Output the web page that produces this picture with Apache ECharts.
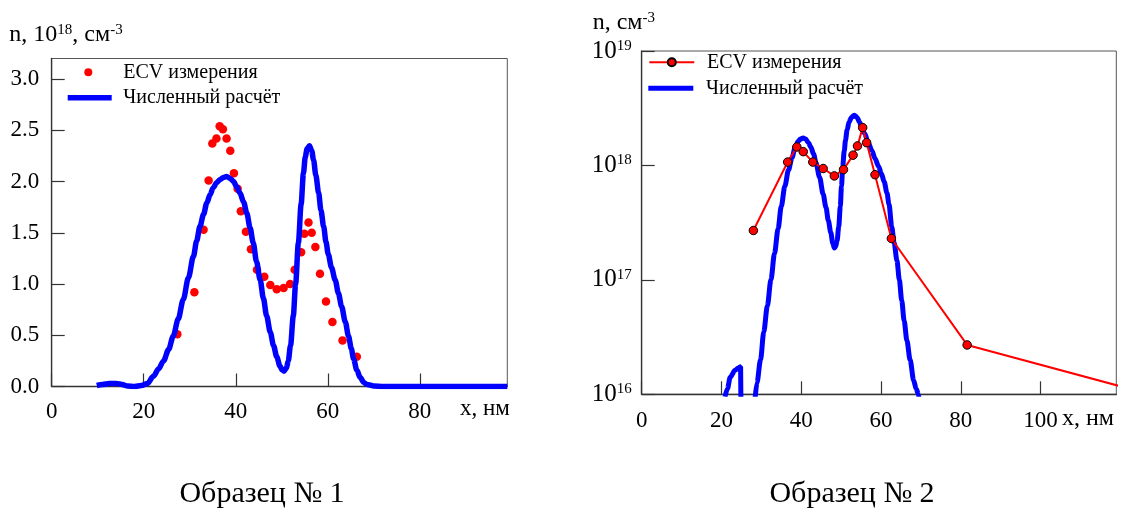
<!DOCTYPE html>
<html>
<head>
<meta charset="utf-8">
<script src="https://cdn.jsdelivr.net/npm/echarts@6.0.0/dist/echarts.min.js"></script>
<style>
html, body { margin: 0; padding: 0; background: #fff; }
#chart { width: 1124px; height: 511px; }
</style>
</head>
<body>
<div id="chart"></div>
<script>
// Образец № 1 (linear scale, units of 1e18 cm^-3)
const leftEcvX = [27.3, 31.0, 33.0, 34.1, 34.9, 35.8, 36.5, 37.2, 38.0, 38.8, 39.6, 40.4, 41.1, 42.2, 43.3, 44.6,
  46.2, 47.5, 48.9, 50.4, 51.8, 52.8, 54.2, 54.9, 55.8, 56.5, 57.3, 58.3, 59.6, 61.0, 63.2, 66.3];
const leftEcvY = [0.51, 0.92, 1.53, 2.01, 2.37, 2.42, 2.54, 2.51, 2.42, 2.30, 2.08, 1.93, 1.71, 1.51, 1.34, 1.14,
  1.07, 0.99, 0.95, 0.96, 1.00, 1.14, 1.31, 1.49, 1.60, 1.50, 1.36, 1.10, 0.83, 0.63, 0.45, 0.29];

const leftCalcX = [9.8, 11.0, 12.5, 14.0, 15.3, 16.5, 18.0, 19.5, 20.8, 22.1, 23.2, 24.3, 25.4, 26.4, 27.5, 28.6,
  29.7, 30.8, 31.5, 32.2, 33.0, 33.7, 34.4, 35.1, 35.9, 36.6, 37.3, 38.0, 38.8, 39.5, 40.2, 40.9, 41.7, 42.4,
  43.1, 43.8, 44.5, 45.3, 46.0, 46.7, 47.5, 48.2, 48.9, 49.6, 50.1, 50.5, 51.0, 51.4, 51.9, 52.5, 53.0, 53.6,
  54.2, 54.7, 55.1, 55.5, 56.0, 56.5, 56.9, 57.4, 58.0, 58.5, 59.1, 59.6, 60.1, 60.8, 61.6, 62.3, 63.0, 63.8,
  64.5, 65.1, 65.6, 66.3, 67.0, 67.8, 68.5, 70.0, 72.0, 99.0];
const leftCalcY = [0.01, 0.02, 0.03, 0.03, 0.02, 0.005, 0.0, 0.01, 0.03, 0.10, 0.17, 0.25, 0.36, 0.49, 0.66, 0.85,
  1.06, 1.27, 1.42, 1.56, 1.68, 1.79, 1.87, 1.94, 1.99, 2.02, 2.04, 2.05, 2.03, 2.00, 1.95, 1.89, 1.80, 1.69,
  1.55, 1.40, 1.22, 1.04, 0.86, 0.69, 0.53, 0.40, 0.29, 0.20, 0.16, 0.15, 0.18, 0.25, 0.40, 0.69, 1.00, 1.40,
  1.78, 2.08, 2.24, 2.32, 2.35, 2.30, 2.21, 2.06, 1.89, 1.72, 1.56, 1.41, 1.29, 1.16, 1.04, 0.91, 0.78, 0.63,
  0.49, 0.37, 0.27, 0.16, 0.09, 0.04, 0.02, 0.005, 0.0, 0.0];

// Образец № 2 (log scale, cm^-3)
const rightEcvX = [28.0, 36.6, 38.9, 40.5, 42.9, 45.5, 48.3, 50.6, 53.0, 54.1, 55.4, 56.4, 58.5, 62.6, 81.6, 121];
const rightEcvY = [2.7e17, 1.07e18, 1.45e18, 1.32e18, 1.07e18, 9.4e17, 8.1e17, 9.2e17, 1.23e18, 1.48e18,
  2.14e18, 1.58e18, 8.3e17, 2.3e17, 2.7e16, 1.15e16];

const rightCalcX = [20.9, 21.5, 22.2, 23.4, 24.2, 24.8, 24.95, 26.5,
  28.4, 28.9, 29.8, 30.6, 31.5, 32.4, 33.3, 34.2, 35.0, 35.9, 36.8, 37.7, 38.5, 39.2, 39.8, 40.5, 41.1, 41.8,
  42.4, 43.1, 43.7, 44.6, 45.5, 46.2, 46.8, 47.4, 47.9, 48.3, 48.6, 49.0, 49.4, 49.8, 50.1, 50.4, 50.8, 51.1,
  51.5, 52.0, 52.6, 53.3, 54.0, 54.6, 55.2, 55.9, 56.8, 57.7, 58.5, 59.4, 60.1, 60.8, 61.5, 62.0, 62.7, 63.3,
  64.0, 64.6, 65.2, 65.8, 66.5, 67.3, 68.2, 68.8, 69.4, 69.8];
const rightCalcY = [9.5e15, 1.12e16, 1.41e16, 1.62e16, 1.70e16, 1.74e16, 3.2e15, null,
  8.9e15, 1.26e16, 2.0e16, 3.5e16, 5.9e16, 1.0e17, 1.7e17, 2.8e17, 4.4e17, 6.6e17, 9.1e17, 1.17e18, 1.45e18,
  1.62e18, 1.70e18, 1.74e18, 1.70e18, 1.58e18, 1.45e18, 1.26e18, 1.05e18, 7.9e17, 5.6e17, 4.3e17, 3.3e17,
  2.6e17, 2.1e17, 1.9e17, 1.95e17, 2.2e17, 2.9e17, 4.4e17, 6.6e17, 9.8e17, 1.35e18, 1.66e18, 2.04e18, 2.4e18,
  2.63e18, 2.75e18, 2.63e18, 2.4e18, 2.14e18, 1.9e18, 1.58e18, 1.35e18, 1.15e18, 9.8e17, 8.5e17, 7.2e17,
  5.75e17, 4.6e17, 2.9e17, 2.1e17, 1.48e17, 1.0e17, 6.6e16, 4.4e16, 2.95e16, 2.0e16, 1.32e16, 1.12e16,
  1.0e16, 7.9e15];

const xTicksLeft = [0, 20, 40, 60, 80];
const xTicksRight = [0, 20, 40, 60, 80, 100];
const yTicksLeft = [0, 0.5, 1.0, 1.5, 2.0, 2.5, 3.0];

const names = {
  ecvL: 'ECV измерения',
  calcL: 'Численный расчёт',
  ecvR: 'ECV измерения',
  calcR: 'Численный расчёт'
};

const FONT = '"Liberation Serif", "Times New Roman", serif';
const RED = '#ff0000';
const BLUE = '#0000ff';
const AXIS = '#333';

function pairs(xs, ys) {
  return xs.map((x, i) => [x, ys[i] === null ? '-' : ys[i]]);
}

function axisCommon() {
  return {
    axisLine: { show: true, onZero: false, lineStyle: { color: AXIS, width: 1.3 } },
    axisTick: { show: true, inside: true, length: 13, lineStyle: { color: AXIS, width: 1.2 } },
    splitLine: { show: false },
    axisLabel: { fontFamily: FONT, fontSize: 23, color: '#000' }
  };
}

function legendItem(key, left, top, width, height, icon, pad) {
  const item = { name: key };
  if (icon) item.icon = icon;
  return {
    data: [item],
    left: left,
    top: top,
    padding: 0,
    itemWidth: width,
    itemHeight: height,
    selectedMode: false,
    formatter: n => names[n],
    textStyle: { fontFamily: FONT, fontSize: 20, color: '#000', lineHeight: 20, padding: [0, 0, 0, pad] }
  };
}

const chart = echarts.init(document.getElementById('chart'));

const xl = axisCommon();
const yl = axisCommon();
const xr = axisCommon();
const yr = axisCommon();

chart.setOption({
  animation: false,
  backgroundColor: '#fff',
  grid: [
    { left: 51.7, top: 58.5, width: 455.6, height: 328, show: true, borderColor: '#555', borderWidth: 1 },
    { left: 641.7, top: 51, width: 474.6, height: 343.3, show: true, borderColor: '#555', borderWidth: 1 }
  ],
  xAxis: [
    Object.assign(xl, {
      type: 'value', gridIndex: 0, min: 0, max: 99, interval: 20,
      axisLabel: Object.assign(xl.axisLabel, {
        margin: 14, showMaxLabel: false,
        formatter: v => (xTicksLeft.indexOf(v) >= 0 ? String(v) : '')
      })
    }),
    Object.assign(xr, {
      type: 'value', gridIndex: 1, min: 0, max: 119, interval: 20,
      axisLabel: Object.assign(xr.axisLabel, {
        margin: 15, showMaxLabel: false,
        formatter: v => (xTicksRight.indexOf(v) >= 0 ? String(v) : '')
      })
    })
  ],
  yAxis: [
    Object.assign(yl, {
      type: 'value', gridIndex: 0, min: 0, max: 3.2, interval: 0.5,
      axisLabel: Object.assign(yl.axisLabel, {
        margin: 12.5, showMaxLabel: false,
        formatter: v => {
          const t = yTicksLeft.find(k => Math.abs(k - v) < 1e-6);
          return t === undefined ? '' : t.toFixed(1);
        }
      })
    }),
    Object.assign(yr, {
      type: 'log', logBase: 10, gridIndex: 1, min: 1e16, max: 1e19, splitNumber: 3,
      axisLabel: Object.assign(yr.axisLabel, {
        margin: 50, align: 'left',
        formatter: v => '{b|10}{s|' + Math.round(Math.log10(v)) + '}',
        rich: {
          b: { fontFamily: FONT, fontSize: 25, lineHeight: 25, color: '#000', verticalAlign: 'bottom' },
          s: { fontFamily: FONT, fontSize: 15, lineHeight: 15, color: '#000', verticalAlign: 'top' }
        }
      })
    })
  ],
  legend: [
    legendItem('ecvL', 84.3, 62.3, 44, 8, 'circle', 8),
    legendItem('calcL', 67.7, 87.7, 44, 5.5, 'rect', 6.6),
    legendItem('ecvR', 648.3, 52.3, 45, 10, null, 7.7),
    legendItem('calcR', 648.3, 78.3, 45, 5, 'rect', 7.7)
  ],
  series: [
    {
      name: 'ecvL', type: 'scatter', xAxisIndex: 0, yAxisIndex: 0,
      symbol: 'circle', symbolSize: 8.5,
      itemStyle: { color: RED, opacity: 1 },
      data: pairs(leftEcvX, leftEcvY)
    },
    {
      name: 'calcL', type: 'line', xAxisIndex: 0, yAxisIndex: 0,
      symbol: 'none', smooth: 0.3, smoothMonotone: 'x',
      itemStyle: { color: BLUE },
      lineStyle: { color: BLUE, width: 5.5 },
      data: pairs(leftCalcX, leftCalcY)
    },
    {
      name: 'calcR', type: 'line', xAxisIndex: 1, yAxisIndex: 1,
      symbol: 'none', smooth: 0.3, smoothMonotone: 'x', connectNulls: false, clip: true,
      itemStyle: { color: BLUE },
      lineStyle: { color: BLUE, width: 5 },
      data: pairs(rightCalcX, rightCalcY)
    },
    {
      name: 'ecvR', type: 'line', xAxisIndex: 1, yAxisIndex: 1,
      symbol: 'circle', symbolSize: 8.5, showSymbol: true, clip: true,
      itemStyle: { color: RED, borderColor: '#000', borderWidth: 1, opacity: 1 },
      lineStyle: { color: RED, width: 2 },
      data: pairs(rightEcvX, rightEcvY)
    }
  ],
  graphic: [
    {
      type: 'text', x: 9.3, y: 23,
      style: {
        text: '{b|n, 10}{s|18}{b|, см}{s|-3}',
        fill: '#000', verticalAlign: 'top',
        rich: {
          b: { fontFamily: FONT, fontSize: 24, lineHeight: 24, padding: [2, 0, 0, 0], verticalAlign: 'bottom', fill: '#000' },
          s: { fontFamily: FONT, fontSize: 15, lineHeight: 15, verticalAlign: 'top', fill: '#000' }
        }
      }
    },
    {
      type: 'text', x: 592.7, y: 10.4,
      style: {
        text: '{b|n, см}{s|-3}',
        fill: '#000', verticalAlign: 'top',
        rich: {
          b: { fontFamily: FONT, fontSize: 24, lineHeight: 24, verticalAlign: 'bottom', fill: '#000' },
          s: { fontFamily: FONT, fontSize: 15, lineHeight: 15, verticalAlign: 'top', fill: '#000' }
        }
      }
    },
    {
      type: 'text', x: 460, y: 409,
      style: { text: 'x, нм', fontFamily: FONT, fontSize: 23, fill: '#000', verticalAlign: 'middle' }
    },
    {
      type: 'text', x: 1062, y: 419,
      style: { text: 'x, нм', fontFamily: FONT, fontSize: 24, fill: '#000', verticalAlign: 'middle' }
    },
    {
      type: 'text', x: 262, y: 494,
      style: { text: 'Образец № 1', fontFamily: FONT, fontSize: 30, fill: '#000', align: 'center', verticalAlign: 'middle' }
    },
    {
      type: 'text', x: 852, y: 494,
      style: { text: 'Образец № 2', fontFamily: FONT, fontSize: 30, fill: '#000', align: 'center', verticalAlign: 'middle' }
    }
  ]
});
</script>
</body>
</html>
